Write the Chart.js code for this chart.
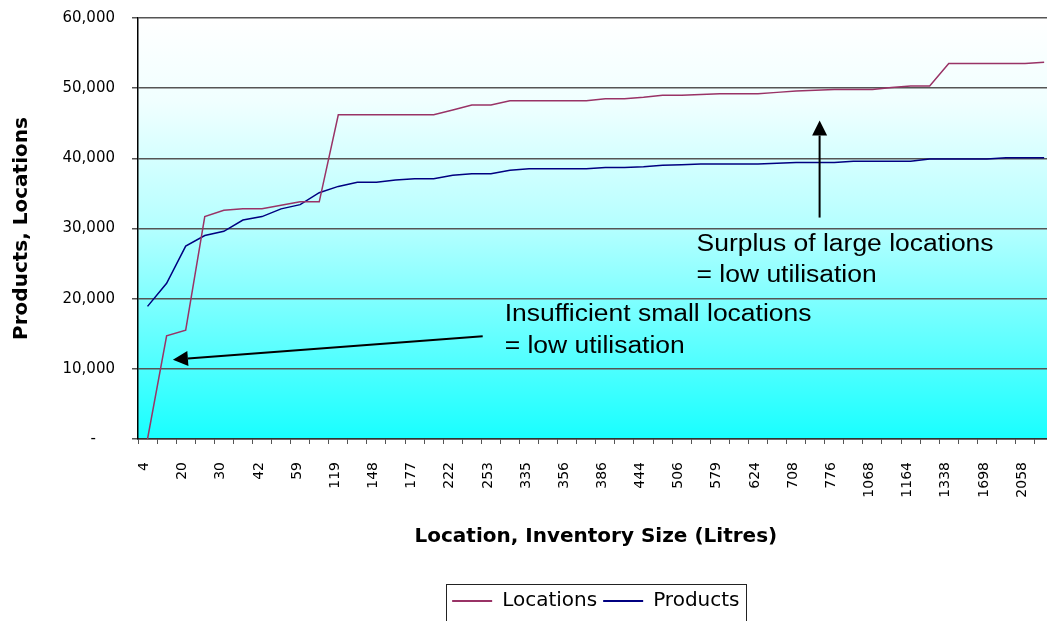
<!DOCTYPE html>
<html>
<head>
<meta charset="utf-8">
<title>Location, Inventory Size</title>
<script src="https://cdn.jsdelivr.net/npm/chart.js@4.4.1/dist/chart.umd.min.js"></script>
<style>
html, body { margin: 0; padding: 0; background: #fff; overflow: hidden; }
canvas { display: block; }
</style>
</head>
<body>
<canvas id="sizeChart" width="1079" height="621"></canvas>
<script>
// only every other size class is labelled on the axis
var tickLabels = ['4', '20', '30', '42', '59', '119', '148', '177', '222', '253', '335', '356',
    '386', '444', '506', '579', '624', '708', '776', '1068', '1164', '1338', '1698', '2058'];
var categories = [];
tickLabels.forEach(function (t) { categories.push(t, ''); });

var locations = [0, 14700, 15500, 31700, 32600, 32800, 32800, 33300, 33800, 33800,
    46200, 46200, 46200, 46200, 46200, 46200, 46900, 47600, 47600, 48200,
    48200, 48200, 48200, 48200, 48500, 48500, 48700, 49000, 49000, 49100,
    49200, 49200, 49200, 49400, 49600, 49700, 49800, 49800, 49800, 50100,
    50300, 50300, 53500, 53500, 53500, 53500, 53500, 53700];

var products = [18900, 22200, 27500, 29000, 29600, 31200, 31700, 32800, 33400, 35100,
    36000, 36600, 36600, 36900, 37100, 37100, 37600, 37800, 37800, 38300,
    38500, 38500, 38500, 38500, 38700, 38700, 38800, 39000, 39100, 39200,
    39200, 39200, 39200, 39300, 39400, 39400, 39400, 39600, 39600, 39600,
    39600, 39900, 39900, 39900, 39900, 40100, 40100, 40100];

// callouts, placed in data units (category index, value)
var notes = [
    { lines: ['Surplus of large locations', '= low utilisation'], at: [28.78, 26850] },
    { lines: ['Insufficient small locations', '= low utilisation'], at: [18.72, 16770] }
];
var arrows = [
    { from: [17.57, 14630], to: [1.33, 11310] },
    { from: [35.23, 31560], to: [35.23, 45390] }
];

Chart.defaults.font.family = "'DejaVu Sans', sans-serif";
Chart.defaults.color = '#000';

var plotShade = {
    id: 'plotShade',
    beforeDraw: function (chart) {
        var a = chart.chartArea, ctx = chart.ctx;
        var g = ctx.createLinearGradient(0, a.top, 0, a.bottom);
        g.addColorStop(0, '#ffffff');
        g.addColorStop(0.2, '#f0ffff');
        g.addColorStop(0.5, '#b4ffff');
        g.addColorStop(1, '#18ffff');
        ctx.save();
        ctx.fillStyle = g;
        ctx.fillRect(a.left, a.top, a.right - a.left, a.bottom - a.top);
        ctx.restore();
    }
};

function drawArrow(ctx, x1, y1, x2, y2) {
    var ang = Math.atan2(y2 - y1, x2 - x1), len = 15, half = 7.5;
    var bx = x2 - len * Math.cos(ang), by = y2 - len * Math.sin(ang);
    ctx.beginPath();
    ctx.moveTo(x1, y1);
    ctx.lineTo(bx, by);
    ctx.stroke();
    ctx.beginPath();
    ctx.moveTo(x2, y2);
    ctx.lineTo(bx + half * Math.sin(ang), by - half * Math.cos(ang));
    ctx.lineTo(bx - half * Math.sin(ang), by + half * Math.cos(ang));
    ctx.closePath();
    ctx.fill();
}

var callouts = {
    id: 'callouts',
    afterDatasetsDraw: function (chart) {
        var ctx = chart.ctx, x = chart.scales.x, y = chart.scales.y;
        ctx.save();
        ctx.strokeStyle = '#000';
        ctx.fillStyle = '#000';
        ctx.lineWidth = 2;
        arrows.forEach(function (a) {
            drawArrow(ctx, x.getPixelForValue(a.from[0]), y.getPixelForValue(a.from[1]),
                x.getPixelForValue(a.to[0]), y.getPixelForValue(a.to[1]));
        });
        ctx.font = "23px 'Liberation Sans', Arial, sans-serif";
        ctx.textAlign = 'left';
        ctx.textBaseline = 'alphabetic';
        notes.forEach(function (n) {
            var px = x.getPixelForValue(n.at[0]), py = y.getPixelForValue(n.at[1]);
            n.lines.forEach(function (line, i) {
                ctx.save();
                ctx.translate(px, py + i * 31.5);
                ctx.scale(1.15, 1);
                ctx.fillText(line, 0, 0);
                ctx.restore();
            });
        });
        ctx.restore();
    },
    afterDraw: function (chart) {
        // frame round the legend
        var hb = chart.legend.legendHitBoxes;
        if (!hb || !hb.length) return;
        var last = hb[hb.length - 1];
        var left = Math.round(hb[0].left - 6), right = Math.round(last.left + last.width + 6);
        var top = Math.round(hb[0].top - 7);
        var ctx = chart.ctx;
        ctx.save();
        ctx.strokeStyle = '#222';
        ctx.lineWidth = 1;
        ctx.strokeRect(left + 0.5, top + 0.5, right - left, 60);
        ctx.restore();
    }
};

new Chart(document.getElementById('sizeChart'), {
    type: 'line',
    data: {
        labels: categories,
        datasets: [{
            label: 'Locations',
            data: locations,
            borderColor: '#993366',
            backgroundColor: '#993366',
            borderWidth: 1.5,
            pointRadius: 0,
            fill: false,
            tension: 0
        }, {
            label: 'Products',
            data: products,
            borderColor: '#000080',
            backgroundColor: '#000080',
            borderWidth: 1.5,
            pointRadius: 0,
            fill: false,
            tension: 0
        }]
    },
    options: {
        responsive: false,
        animation: false,
        devicePixelRatio: 1,
        layout: { padding: { top: 18, right: 7, left: 0, bottom: 0 } },
        plugins: {
            tooltip: { enabled: false },
            legend: {
                position: 'bottom',
                fullSize: false,
                labels: {
                    boxWidth: 40,
                    boxHeight: 2,
                    padding: 6,
                    font: { size: 20 },
                    color: '#000',
                    generateLabels: function (chart) {
                        return Chart.defaults.plugins.legend.labels.generateLabels(chart).map(function (item) {
                            item.fillStyle = item.strokeStyle;
                            item.lineWidth = 0;
                            return item;
                        });
                    }
                }
            }
        },
        scales: {
            x: {
                type: 'category',
                offset: true,
                grid: { display: true, drawOnChartArea: false, drawTicks: true, tickLength: 5, offset: true, color: '#555', lineWidth: 1 },
                border: { display: true, color: '#333', width: 1.5 },
                ticks: { autoSkip: false, minRotation: 90, maxRotation: 90, padding: 18, labelOffset: -3, font: { size: 14 }, color: '#000' },
                title: {
                    display: true,
                    text: 'Location, Inventory Size (Litres)',
                    font: { size: 20, weight: 'bold' },
                    color: '#000',
                    padding: { top: 30, bottom: 36 }
                },
                afterFit: function (s) { s.height = 146; }
            },
            y: {
                min: 0,
                max: 60000,
                ticks: {
                    stepSize: 10000,
                    padding: 17,
                    font: { size: 15 },
                    color: '#000',
                    callback: function (v) { return v === 0 ? '-    ' : v.toLocaleString('en-US'); }
                },
                grid: { color: '#555', lineWidth: 1.5, tickLength: 6 },
                border: { color: '#000', width: 1.5 },
                title: {
                    display: true,
                    text: 'Products, Locations',
                    font: { size: 20, weight: 'bold' },
                    color: '#000',
                    padding: { top: 10, bottom: 0 }
                },
                afterFit: function (s) {
                    s.width = 138;
                    s.paddingTop = 0;
                }
            }
        }
    },
    plugins: [plotShade, callouts]
});
</script>
</body>
</html>
